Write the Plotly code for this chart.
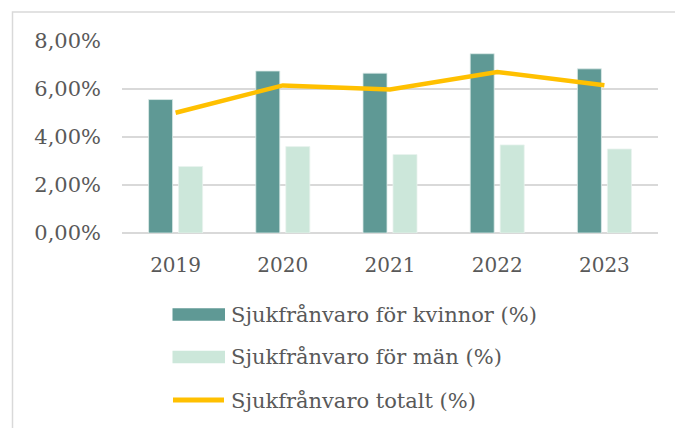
import plotly.graph_objects as go

years = ["2019", "2020", "2021", "2022", "2023"]
kvinnor = [5.56, 6.75, 6.66, 7.47, 6.84]
man = [2.77, 3.60, 3.27, 3.67, 3.50]
totalt = [5.01, 6.15, 5.98, 6.71, 6.16]

name_k = "Sjukfrånvaro för kvinnor (%)"
name_m = "Sjukfrånvaro för män (%)"
name_t = "Sjukfrånvaro totalt (%)"

C_K = "#5F9995"
C_M = "#CCE7DA"
C_T = "#FFC000"

FONT = "DejaVu Serif, serif"
TXT = "#595959"
FS_LEG = 21
FS_X = 20
FS_Y = 21

fig = go.Figure()
fig.add_trace(go.Bar(x=years, y=kvinnor, name=name_k, showlegend=False,
                     marker=dict(color=C_K, line=dict(color="#DDEBE8", width=0.8))))
fig.add_trace(go.Bar(x=years, y=man, name=name_m, showlegend=False,
                     marker=dict(color=C_M, line=dict(color="#E8F3EE", width=0.8))))
fig.add_trace(go.Scatter(x=years, y=totalt, name=name_t, mode="lines", showlegend=False,
                         line=dict(color=C_T, width=4.5)))

W, H = 675, 428
L, R, T, B = 122, 17, 41, 195
pw, ph = W - L - R, H - T - B

def px2x(px):
    return (px - L) / pw

def px2y(py):
    return (H - B - py) / ph

# outer chart border
fig.add_shape(type="rect", xref="paper", yref="paper",
              x0=px2x(12.5), x1=px2x(690), y0=px2y(12), y1=px2y(440),
              line=dict(color="#D9D9D9", width=1.5), fillcolor="rgba(0,0,0,0)", layer="below")

# legend (drawn below the plot)
legend_items = [(name_k, "bar", C_K, 314.5), (name_m, "bar", C_M, 357), (name_t, "line", C_T, 401)]
for label, kind, col, yc in legend_items:
    if kind == "bar":
        fig.add_shape(type="rect", xref="paper", yref="paper",
                      x0=px2x(172.5), x1=px2x(225), y0=px2y(yc - 6.2), y1=px2y(yc + 6.2),
                      line=dict(width=0), fillcolor=col)
    else:
        fig.add_shape(type="line", xref="paper", yref="paper",
                      x0=px2x(173), x1=px2x(224), y0=px2y(yc - 1), y1=px2y(yc - 1),
                      line=dict(color=col, width=5))
    fig.add_annotation(text=label, xref="paper", yref="paper", x=px2x(229), y=px2y(yc),
                       xanchor="left", yanchor="middle", showarrow=False,
                       font=dict(size=FS_LEG, color=TXT, family=FONT))

fig.update_layout(
    width=W, height=H,
    margin=dict(l=L, r=R, t=T, b=B, autoexpand=False),
    paper_bgcolor="white", plot_bgcolor="white",
    separators=",.",
    barmode="group", bargap=0.44, bargroupgap=0.2,
    font=dict(family=FONT, color=TXT, size=FS_LEG),
    xaxis=dict(showgrid=False, showline=False, ticks="", ticklabelstandoff=18,
               tickfont=dict(size=FS_X, color=TXT)),
    yaxis=dict(range=[0, 8], dtick=2, tickformat=".2f", ticksuffix="%",
               showgrid=True, gridcolor="#D9D9D9", gridwidth=1.5,
               zeroline=True, zerolinecolor="#D9D9D9", zerolinewidth=1.5,
               showline=False, ticks="", ticklabelstandoff=20,
               tickfont=dict(size=FS_Y, color=TXT)),
    showlegend=False,
)

fig.write_html("out.html", config={"displayModeBar": False},
               post_script="document.body.style.margin='0';")
